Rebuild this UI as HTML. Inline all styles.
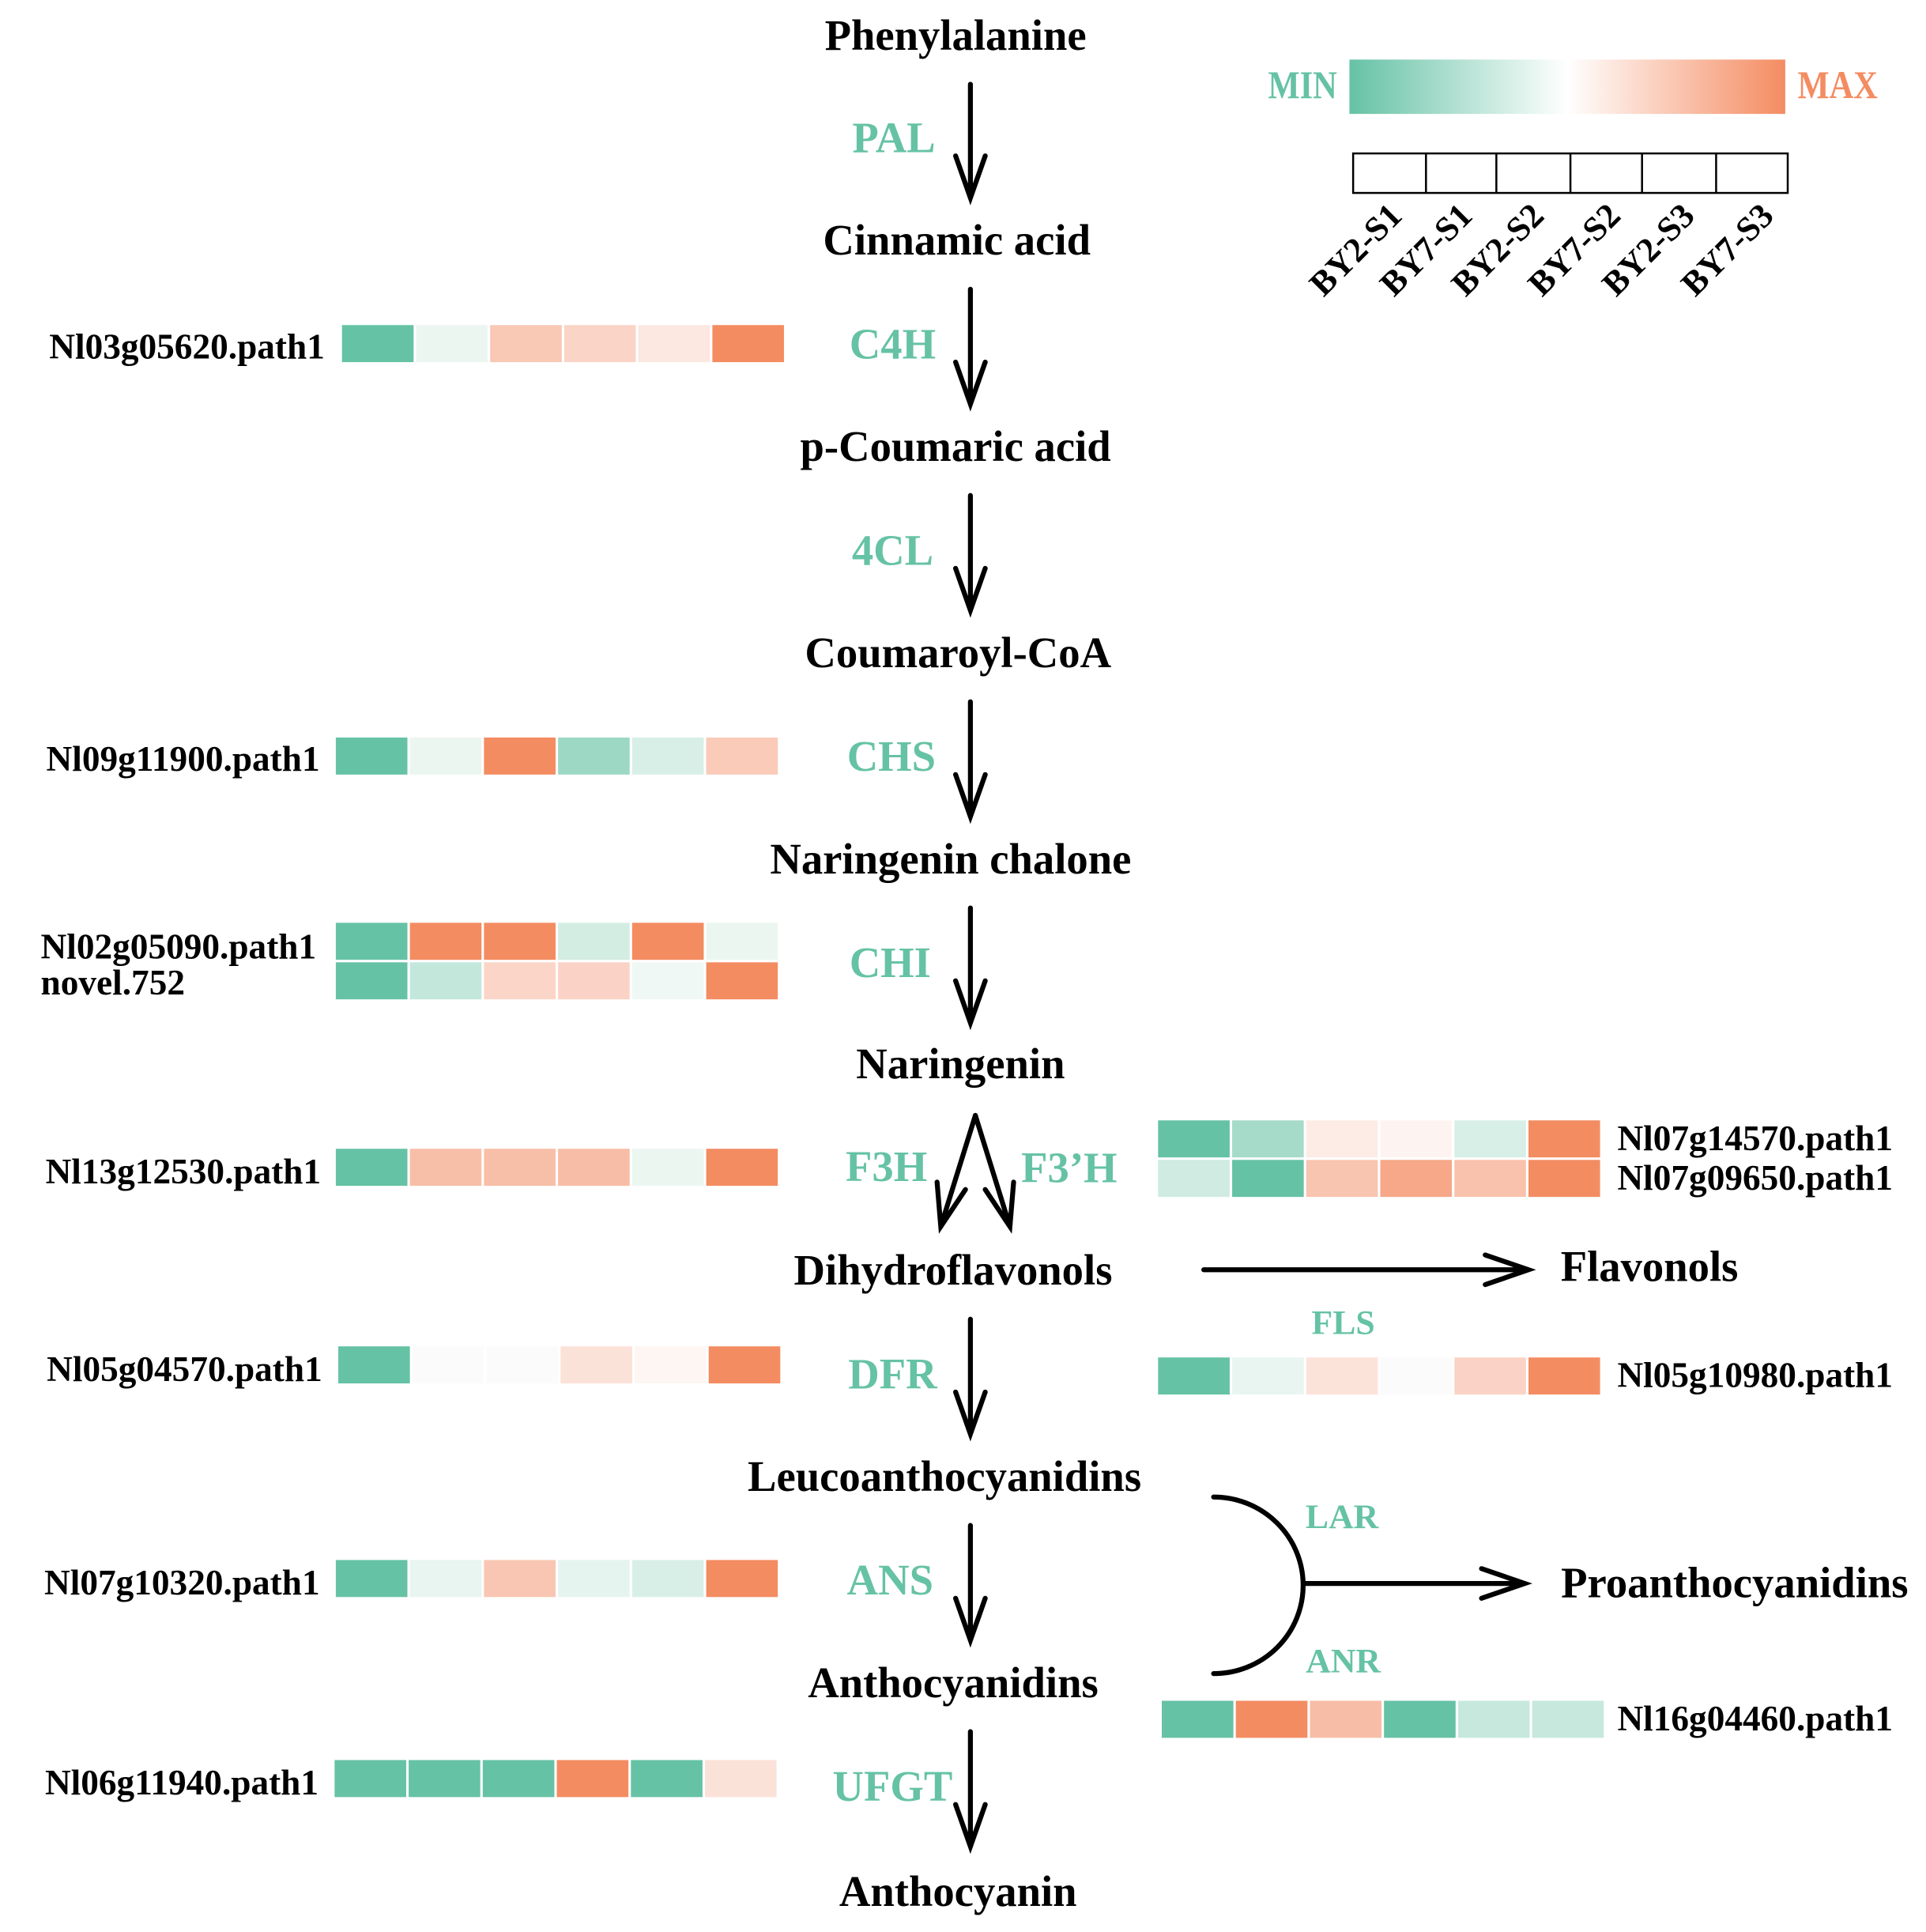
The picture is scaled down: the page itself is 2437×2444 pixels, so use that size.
<!DOCTYPE html>
<html><head><meta charset="utf-8"><style>
html,body{margin:0;padding:0;background:#fff}
svg{display:block}
.c{font-family:"Liberation Serif",serif;font-weight:bold;font-size:35px;fill:#000;text-anchor:middle}
.e{font-family:"Liberation Serif",serif;font-weight:bold;font-size:35px;fill:#66c2a5;text-anchor:middle}
.g{font-family:"Liberation Serif",serif;font-weight:bold;font-size:29px;fill:#000}
.l{font-family:"Liberation Serif",serif;font-weight:bold;font-size:28px;fill:#000;text-anchor:end}
</style></head><body>
<svg id="s" width="2437" height="2444" viewBox="0 0 1560 1564" xmlns="http://www.w3.org/2000/svg">
<defs>
<linearGradient id="gr" x1="0" x2="1" y1="0" y2="0">
<stop offset="0" stop-color="#66c2a5"/><stop offset="0.5" stop-color="#ffffff"/><stop offset="1" stop-color="#f48c62"/>
</linearGradient>
</defs>
<g fill="none" stroke="#000" stroke-width="4" stroke-linecap="round">
<path d="M786 68V160M774 126L786 160L798 126"/>
<path d="M786 234V327M774 293L786 327L798 293"/>
<path d="M786 401V494M774 460L786 494L798 460"/>
<path d="M786 568V661M774 627L786 661L798 627"/>
<path d="M786 735V828M774 794L786 828L798 794"/>
<path d="M790 903L762 993M759 957L762 993L782 963"/>
<path d="M790 903L818 993M798 963L818 993L821 957"/>
<path d="M786 1068V1161M774 1127L786 1161L798 1127"/>
<path d="M786 1235V1328M774 1294L786 1328L798 1294"/>
<path d="M786 1402V1495M774 1461L786 1495L798 1461"/>
<path d="M975 1028H1238M1203 1016L1238 1028L1203 1040"/>
<path d="M983 1212A72 71 0 0 1 983 1355"/>
<path d="M1057 1282H1235M1200 1270L1235 1282L1200 1294"/>
</g>
<text class="c" x="774" y="40">Phenylalanine</text>
<text class="c" x="775" y="206">Cinnamic acid</text>
<text class="c" x="774" y="373">p-Coumaric acid</text>
<text class="c" x="776" y="540">Coumaroyl-CoA</text>
<text class="c" x="770" y="707">Naringenin chalone</text>
<text class="c" x="778" y="873">Naringenin</text>
<text class="c" x="772" y="1040">Dihydroflavonols</text>
<text class="c" x="765" y="1207">Leucoanthocyanidins</text>
<text class="c" x="772" y="1374">Anthocyanidins</text>
<text class="c" x="776" y="1543">Anthocyanin</text>
<text class="c" x="1336" y="1037">Flavonols</text>
<text class="c" x="1405" y="1293">Proanthocyanidins</text>
<text class="e" x="724" y="123">PAL</text>
<text class="e" x="723" y="290">C4H</text>
<text class="e" x="723" y="457">4CL</text>
<text class="e" x="722" y="624">CHS</text>
<text class="e" x="721" y="791">CHI</text>
<text class="e" x="718" y="956">F3H</text>
<text class="e" x="866" y="957">F3’H</text>
<text class="e" x="723" y="1124">DFR</text>
<text class="e" x="721" y="1291">ANS</text>
<text class="e" x="723" y="1458">UFGT</text>
<text class="e" x="1088" y="1080" style="font-size:28px">FLS</text>
<text class="e" x="1087" y="1237" style="font-size:28px">LAR</text>
<text class="e" x="1088" y="1354" style="font-size:28px">ANR</text>
<text class="g" x="263" y="290" text-anchor="end">Nl03g05620.path1</text>
<text class="g" x="259" y="624" text-anchor="end">Nl09g11900.path1</text>
<text class="g" x="33" y="776">Nl02g05090.path1</text>
<text class="g" x="33" y="805">novel.752</text>
<text class="g" x="260" y="958" text-anchor="end">Nl13g12530.path1</text>
<text class="g" x="261" y="1118" text-anchor="end">Nl05g04570.path1</text>
<text class="g" x="259" y="1291" text-anchor="end">Nl07g10320.path1</text>
<text class="g" x="258" y="1453" text-anchor="end">Nl06g11940.path1</text>
<text class="g" x="1310" y="931">Nl07g14570.path1</text>
<text class="g" x="1310" y="963">Nl07g09650.path1</text>
<text class="g" x="1310" y="1123">Nl05g10980.path1</text>
<text class="g" x="1310" y="1401">Nl16g04460.path1</text>
<rect x="1093" y="48" width="353" height="44" fill="url(#gr)"/>
<text transform="translate(1083,79) scale(0.85,1)" style="font-family:'Liberation Serif',serif;font-weight:bold;font-size:32px;fill:#66c2a5;text-anchor:end">MIN</text>
<text transform="translate(1456,79) scale(0.85,1)" style="font-family:'Liberation Serif',serif;font-weight:bold;font-size:32px;fill:#f48c62">MAX</text>
<g fill="none" stroke="#000" stroke-width="1.6">
<rect x="1096" y="124" width="352" height="32"/>
<path d="M1155 124V156M1212 124V156M1272 124V156M1330 124V156M1390 124V156"/>
</g>
<g id="hm"></g>
<text class="l" transform="translate(1137,176) rotate(-45)">BY2-S1</text>
<text class="l" transform="translate(1194,176) rotate(-45)">BY7-S1</text>
<text class="l" transform="translate(1252,176) rotate(-45)">BY2-S2</text>
<text class="l" transform="translate(1314,176) rotate(-45)">BY7-S2</text>
<text class="l" transform="translate(1374,176) rotate(-45)">BY2-S3</text>
<text class="l" transform="translate(1438,176) rotate(-45)">BY7-S3</text>
</svg>
<script>
var G="#66c2a5",O="#f48c62";
var rows=[
[277,263,[G,"#ebf6f1","#f9c9b6","#fad4c6","#fce8e0",O]],
[272,597,[G,"#ebf6f1",O,"#9dd8c5","#d8efe7","#f9cbb8"]],
[272,747,[G,O,O,"#d3ede3",O,"#ebf6f1"]],
[272,779,[G,"#c4e7dc","#fad5c8","#fad3c6","#eff8f4",O]],
[272,930,[G,"#f8bfa8","#f8bfa8","#f8bda6","#ebf6f1",O]],
[274,1090,[G,"#fafbfa","#fafbfa","#fbe2d8","#fdf6f3",O]],
[272,1263,[G,"#e8f5f0","#f8c6b2","#e6f4ef","#d8efe7",O]],
[271,1425,[G,G,G,O,G,"#fbe2d8"]],
[938,907,[G,"#a6dbc9","#fdece6","#fdf4f1","#d8efe7",O]],
[938,939,[ "#d0ebe1",G,"#f8c5b0","#f6a888","#f8c2ad",O]],
[938,1099,[G,"#e8f5f0","#fce3d9","#fafbfa","#fad3c6",O]],
[941,1377,[G,O,"#f8bda6",G,"#c6e8dd","#c6e8dd"]]
];
var h='';
rows.forEach(function(r){for(var i=0;i<6;i++){h+='<rect x="'+(r[0]+i*60)+'" y="'+r[1]+'" width="58" height="30" fill="'+r[2][i]+'"/>';}});
document.getElementById('hm').innerHTML=h;
</script>
</body></html>
